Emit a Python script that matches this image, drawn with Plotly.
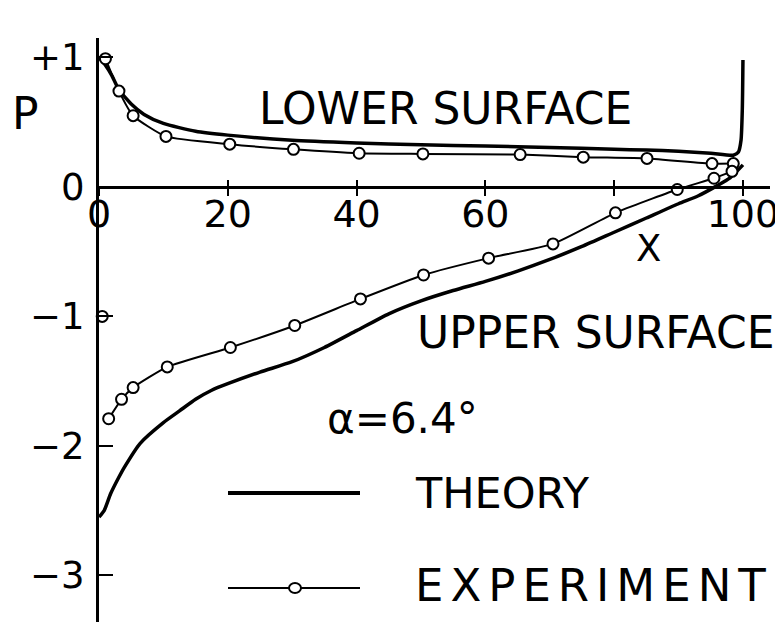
import plotly.graph_objects as go

# ---------------- data ----------------
theory_lower_x = [0, 1, 2, 3, 5, 7, 10, 15, 20, 30, 40, 50, 60, 70, 80, 85, 90, 95, 98.5, 99.3, 99.7, 99.9, 100]
theory_lower_p = [1.0, 0.94, 0.86, 0.76, 0.64, 0.56, 0.49, 0.43, 0.40, 0.36, 0.34, 0.325, 0.315, 0.305, 0.29,
                  0.285, 0.275, 0.26, 0.245, 0.27, 0.36, 0.6, 0.98]

theory_upper_x = [0, 0.8, 1.8, 3, 4, 6.4, 10, 12.5, 15, 17.5, 20, 25, 30, 35, 40, 45, 50, 55, 60, 65, 70, 75,
                  80, 85, 90, 93, 96, 98, 100]
theory_upper_p = [-2.55, -2.50, -2.37, -2.25, -2.16, -1.98, -1.82, -1.73, -1.64, -1.57, -1.52, -1.43, -1.35,
                  -1.24, -1.11, -0.98, -0.88, -0.80, -0.73, -0.65, -0.56, -0.46, -0.35, -0.24, -0.13, -0.07,
                  0.01, 0.07, 0.17]

exp_lower_x = [1, 3.1, 5.3, 10.4, 20.3, 30.2, 40.4, 50.3, 65.4, 75.2, 85.1, 95.2, 98.5]
exp_lower_p = [0.99, 0.74, 0.55, 0.39, 0.33, 0.29, 0.26, 0.255, 0.25, 0.23, 0.22, 0.18, 0.18]

exp_upper_x = [1.5, 3.5, 5.3, 10.6, 20.4, 30.4, 40.6, 50.4, 60.5, 70.5, 80.2, 89.8, 95.5, 98.3]
exp_upper_p = [-1.79, -1.64, -1.55, -1.39, -1.24, -1.07, -0.865, -0.68, -0.55, -0.44, -0.20, -0.02, 0.067, 0.12]

exp_le_x = [0.5]
exp_le_p = [-1.0]

x_tick_vals = [0, 20, 40, 60, 80, 100]
x_tick_text = ["0", "20", "40", "60", "", "100"]
y_tick_vals = [1, 0, -1, -2, -3]
y_tick_text = ["+1", "0", "\u22121", "\u22122", "\u22123"]

# ---------------- layout constants ----------------
W, H = 783, 622
OFF = 8            # default page body margin that shifts the figure
ML, MR, MT, MB = 99, 13, 38, 0
X_RANGE = [0, 104.2]
Y_RANGE = [-3.36, 1.15]
FONT = "DejaVu Sans"
INK = "black"


def px_to_paper_x(px):
    return (px - ML) / (W - ML - MR)


def py_to_paper_y(py):
    return 1 - (py - MT) / (H - MT - MB)


fig = go.Figure()

theory_style = dict(color=INK, width=3.5, shape="spline", smoothing=0.6)
exp_line = dict(color=INK, width=2, shape="spline", smoothing=0.5)
exp_marker = dict(symbol="circle", size=11, color="white", line=dict(color=INK, width=2))

fig.add_trace(go.Scatter(x=theory_lower_x, y=theory_lower_p, mode="lines", line=theory_style,
                         showlegend=False, cliponaxis=False))
fig.add_trace(go.Scatter(x=theory_upper_x, y=theory_upper_p, mode="lines", line=theory_style,
                         showlegend=False, cliponaxis=False))
fig.add_trace(go.Scatter(x=exp_lower_x, y=exp_lower_p, mode="lines+markers", line=exp_line,
                         marker=exp_marker, showlegend=False, cliponaxis=False))
fig.add_trace(go.Scatter(x=exp_upper_x, y=exp_upper_p, mode="lines+markers", line=exp_line,
                         marker=exp_marker, showlegend=False, cliponaxis=False))
fig.add_trace(go.Scatter(x=exp_le_x, y=exp_le_p, mode="markers", marker=exp_marker,
                         showlegend=False, cliponaxis=False))

x_pos = (0 - Y_RANGE[0]) / (Y_RANGE[1] - Y_RANGE[0])

common_x = dict(range=X_RANGE, showgrid=False, zeroline=False, fixedrange=True,
                tickvals=x_tick_vals, anchor="free", position=x_pos)

fig.update_layout(
    width=W - OFF, height=H - OFF, autosize=False,
    margin=dict(l=ML - OFF, r=MR, t=MT - OFF, b=MB, pad=0),
    paper_bgcolor="white", plot_bgcolor="white",
    showlegend=False,
    font=dict(family=FONT, color=INK),
    xaxis=dict(**common_x, showline=True, linecolor=INK, linewidth=2.5,
               ticks="outside", ticklen=7, tickwidth=2, tickcolor=INK,
               ticktext=x_tick_text, tickfont=dict(size=38, family=FONT, color=INK),
               ticklabelstandoff=-14),
    xaxis2=dict(**common_x, overlaying="x", side="bottom", showline=False,
                ticks="inside", ticklen=7, tickwidth=2, tickcolor=INK, showticklabels=False),
    yaxis=dict(range=Y_RANGE, showgrid=False, zeroline=False, fixedrange=True,
               showline=True, linecolor=INK, linewidth=3,
               ticks="inside", ticklen=14, tickwidth=2, tickcolor=INK,
               tickvals=y_tick_vals, ticktext=y_tick_text,
               tickfont=dict(size=37, family=FONT, color=INK), ticklabelstandoff=4),
)

# invisible trace so the overlay axis is drawn
fig.add_trace(go.Scatter(x=[None], y=[None], xaxis="x2", yaxis="y", showlegend=False, hoverinfo="skip"))

# ---------------- text labels ----------------
def label(text, px, py, size=43, xanchor="center"):
    fig.add_annotation(text=text, x=px_to_paper_x(px), y=py_to_paper_y(py), xref="paper", yref="paper",
                       xanchor=xanchor, yanchor="middle", showarrow=False,
                       font=dict(family=FONT, size=size, color=INK))


label("P", 25, 114, size=44)
label("LOWER SURFACE", 445, 109, size=44)
label("X", 648, 248, size=37)
label("UPPER SURFACE", 595, 332, size=44)
label("\u03b1=6.4\u00b0", 402, 418, size=42)
label("THEORY", 413, 493, xanchor="left")
label('<span style="letter-spacing:7px">EXPERIMENT</span>', 413, 585, size=45, xanchor="left")

# ---------------- hand-made key ----------------
fig.add_shape(type="line", xref="paper", yref="paper",
              x0=px_to_paper_x(228), x1=px_to_paper_x(360), y0=py_to_paper_y(493), y1=py_to_paper_y(493),
              line=dict(color=INK, width=4))
fig.add_shape(type="line", xref="paper", yref="paper",
              x0=px_to_paper_x(228), x1=px_to_paper_x(360), y0=py_to_paper_y(588), y1=py_to_paper_y(588),
              line=dict(color=INK, width=2))
fig.add_shape(type="circle", xref="paper", yref="paper", xsizemode="pixel", ysizemode="pixel",
              xanchor=px_to_paper_x(295), yanchor=py_to_paper_y(588), x0=-6, x1=6, y0=-5, y1=5,
              fillcolor="white", line=dict(color=INK, width=2), layer="above")

fig.write_html("out.html")
